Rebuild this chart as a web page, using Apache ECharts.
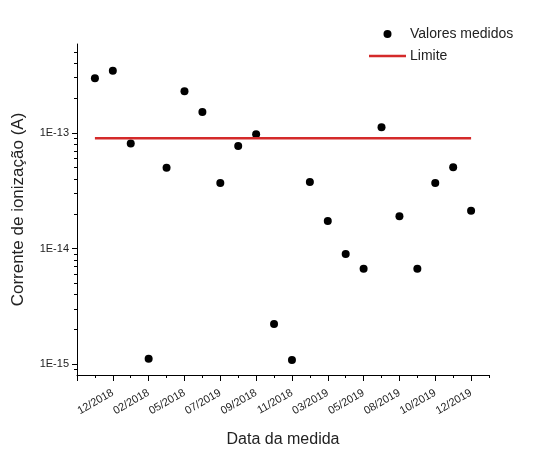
<!DOCTYPE html>
<html>
<head>
<meta charset="utf-8">
<script src="https://cdn.jsdelivr.net/npm/echarts@6/dist/echarts.min.js"></script>
<style>
html,body{margin:0;padding:0;background:#fff;}
#chart{width:534px;height:453px;}
</style>
</head>
<body>
<div id="chart"></div>
<script>
// Measured ionization current (A), one per measurement position 1..22
const measuredValues = [2.96e-13, 3.44e-13, 8.1e-14, 1.12e-15, 5.0e-14, 2.29e-13, 1.51e-13, 3.69e-14, 7.7e-14, 9.7e-14, 2.23e-15, 1.09e-15, 3.77e-14, 1.73e-14, 8.97e-15, 6.7e-15, 1.12e-13, 1.9e-14, 6.7e-15, 3.69e-14, 5.04e-14, 2.12e-14];
// x tick labels at positions 2,4,...,22
const xTickLabels = ['12/2018','02/2018','05/2018','07/2019','09/2018','11/2018','03/2019','05/2019','08/2019','10/2019','12/2019'];
const xTickPositions = [2,4,6,8,10,12,14,16,18,20,22];
const xMinorTickPositions = [1,3,5,7,9,11,13,15,17,19,21,23];
const xMajorTickPositions = [0,2,4,6,8,10,12,14,16,18,20,22];
// Limit value
const limitValue = 9.0e-14;
const limitRange = [1, 22];
// y major ticks (decades)
const yMajorTicks = [1e-15, 1e-14, 1e-13];
const yMinorTicks = [9e-16, 2e-15,3e-15,4e-15,5e-15,6e-15,7e-15,8e-15,9e-15, 2e-14,3e-14,4e-14,5e-14,6e-14,7e-14,8e-14,9e-14, 2e-13,3e-13,4e-13,5e-13];
const yMin = 8.1e-16, yMax = 5.85e-13;
const xMin = 0, xMax = 23;

const scatterData = measuredValues.map((v, i) => [i + 1, v]);
const limitData = limitRange.map(x => [x, limitValue]);

const FONT = 'Liberation Sans, Arial, sans-serif';
const chart = echarts.init(document.getElementById('chart'), null, {renderer: 'canvas'});
chart.setOption({
  animation: false,
  backgroundColor: '#fff',
  textStyle: {fontFamily: FONT},
  grid: {left: 77, right: 45, top: 44, bottom: 78, containLabel: false},
  legend: {
    orient: 'vertical', left: 369, top: 27, padding: 0,
    itemWidth: 37, itemHeight: 8, itemGap: 8,
    textStyle: {fontSize: 14, color: '#222', fontFamily: FONT, padding: [0,0,0,-1]},
    data: [
      {name: 'Valores medidos', icon: 'circle'},
      {name: 'Limite', icon: 'path://M0,0 L37,0 L37,2.5 L0,2.5 Z'}
    ]
  },
  xAxis: [{
    type: 'value', min: xMin, max: xMax, position: 'bottom',
    name: 'Data da medida', nameLocation: 'middle', nameGap: 57,
    nameTextStyle: {fontSize: 16, color: '#222', fontFamily: FONT},
    axisLine: {show: true, lineStyle: {color: '#000', width: 1}},
    axisTick: {show: true, length: 6, lineStyle: {color: '#000'}, customValues: xMajorTickPositions},
    axisLabel: {
      customValues: xTickPositions, rotate: 30, margin: 17, fontSize: 11, color: '#222', fontFamily: FONT,
      formatter: v => xTickLabels[xTickPositions.indexOf(Math.round(v))] || ''
    },
    splitLine: {show: false}
  }, {
    type: 'value', min: xMin, max: xMax, position: 'bottom',
    axisLine: {show: false},
    axisTick: {show: true, length: 3, lineStyle: {color: '#000'}, customValues: xMinorTickPositions},
    axisLabel: {show: false},
    splitLine: {show: false}
  }],
  yAxis: [{
    type: 'log', min: yMin, max: yMax, position: 'left',
    name: 'Corrente de ionização (A)', nameLocation: 'middle', nameGap: 50, nameRotate: 90,
    nameTextStyle: {fontSize: 17, color: '#222', fontFamily: FONT, padding: [0, 0, 0, 0]},
    axisLine: {show: true, lineStyle: {color: '#000', width: 1}},
    axisTick: {show: true, length: 5, lineStyle: {color: '#000'}, customValues: yMajorTicks},
    axisLabel: {
      customValues: yMajorTicks, margin: 8, fontSize: 11, color: '#222', fontFamily: FONT,
      formatter: v => '1E' + Math.round(Math.log10(v))
    },
    splitLine: {show: false}
  }, {
    type: 'log', min: yMin, max: yMax, position: 'left',
    axisLine: {show: false},
    axisTick: {show: true, length: 3, lineStyle: {color: '#000'}, customValues: yMinorTicks},
    axisLabel: {show: false},
    splitLine: {show: false}
  }],
  series: [{
    name: 'Valores medidos', type: 'scatter', xAxisIndex: 0, yAxisIndex: 0,
    data: scatterData, symbol: 'circle', symbolSize: 8,
    itemStyle: {color: '#000', opacity: 1}
  }, {
    name: 'Limite', type: 'line', xAxisIndex: 0, yAxisIndex: 0,
    data: limitData, symbol: 'none', showSymbol: false,
    lineStyle: {color: '#d42a2a', width: 2.5},
    itemStyle: {color: '#d42a2a'}
  }]
});
</script>
</body>
</html>
